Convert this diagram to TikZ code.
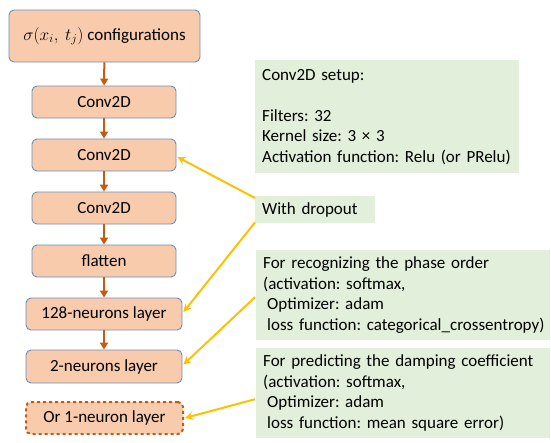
\documentclass[tikz,border=0pt]{standalone}
\usepackage{fontspec}
\setmainfont{Carlito}
\usetikzlibrary{arrows.meta,calc}
\definecolor{boxfill}{HTML}{F8CBAD}
\definecolor{boxline}{HTML}{6D8EB8}
\definecolor{brownarrow}{HTML}{C55A11}
\definecolor{greenfill}{HTML}{E2EFDA}
\definecolor{yellowarrow}{HTML}{FFC000}
\tikzset{
  layer/.style={draw=boxline, line width=0.9pt, fill=boxfill, rounded corners=5pt,
    minimum height=32pt, inner sep=0pt, font=\fontsize{17}{20.5}\selectfont},
  note/.style={fill=greenfill, anchor=north west, inner xsep=7pt, inner ysep=0pt, align=left,
    font=\fontsize{17}{20.5}\selectfont\frenchspacing},
  flow/.style={draw=brownarrow, line width=2pt, -{Triangle[length=7pt,width=8pt]}},
  hint/.style={draw=yellowarrow, line width=2pt, -{Stealth[length=8pt,width=8pt]}}
}
\begin{document}
\frenchspacing
\begin{tikzpicture}[x=1pt,y=-1pt]
\useasboundingbox (0,0) rectangle (551,442);
% left column
\node[layer, minimum width=191pt, minimum height=52pt] (top) at (104.5,36) {$\sigma(x_i,\ t_j)$ configurations};
\node[layer, minimum width=144pt] (c1) at (104,102) {Conv2D};
\node[layer, minimum width=144pt] (c2) at (104,155) {Conv2D};
\node[layer, minimum width=144pt] (c3) at (104,208) {Conv2D};
\node[layer, minimum width=144pt] (fl) at (104,261) {flatten};
\node[layer, minimum width=156pt] (n128) at (104,314) {128-neurons layer};
\node[layer, minimum width=156pt, minimum height=33pt] (n2) at (104,366.5) {2-neurons layer};
\node[layer, minimum width=157pt, draw=brownarrow, line width=2pt, dashed] (n1) at (104.5,418) {Or 1-neuron layer};
\draw[flow] (top) -- (c1);
\draw[flow] (c1) -- (c2);
\draw[flow] (c2) -- (c3);
\draw[flow] (c3) -- (fl);
\draw[flow] (fl) -- (n128);
\draw[flow] (n128) -- (n2);
% notes
\node[note, minimum height=113pt, text width=250pt] (setup) at (255,60) {Conv2D setup:\\[20.5pt]Filters: 32\\Kernel size: 3 × 3\\Activation function: Relu (or PRelu)};
\node[note, minimum height=27pt, text width=106pt] (drop) at (255,196) {With dropout};
\node[note, minimum height=90pt, text width=280pt] (phase) at (256,250) {For recognizing the phase order\\(activation: softmax,\\\hspace*{4pt}Optimizer: adam\\\mbox{\hspace*{4pt}loss function: categorical\_crossentropy)}};
\node[note, minimum height=90pt, text width=280pt] (damp) at (256,348) {For predicting the damping coefficient\\(activation: softmax,\\\hspace*{4pt}Optimizer: adam\\\hspace*{4pt}loss function: mean square error)};
\coordinate (d1) at ($(drop.north west)+(0,2)$);
\coordinate (d2) at ($(drop.south west)+(0,-1)$);
\coordinate (p1) at ($(phase.west)+(-1,2)$);
\coordinate (m1) at ($(damp.west)+(-1,6)$);
\draw[hint] (d1) -- ($(c2.east)+(1,2)$);
\draw[hint] (d2) -- ($(n128.east)+(1,-2)$);
\draw[hint] (p1) -- ($(n2.east)+(1,-2)$);
\draw[hint] (m1) -- ($(n1.east)+(1,0)$);
\end{tikzpicture}
\end{document}
